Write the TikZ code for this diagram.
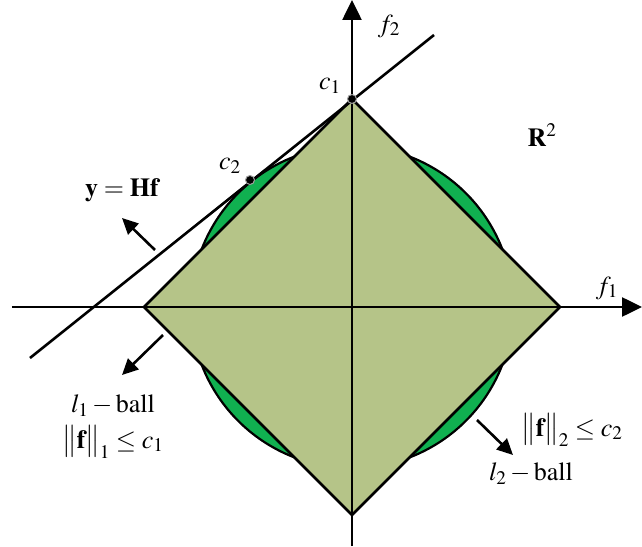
\documentclass[tikz,border=0pt]{standalone}
\usepackage{amsmath}
\usepackage{mathptmx}
\usepackage{fontspec}
\setmainfont{Liberation Serif}
\usetikzlibrary{
  arrows.meta,
  positioning
}
\definecolor{DiamondOlive}{RGB}{181,196,136}
\definecolor{BallGreen}{RGB}{16,176,80}
\definecolor{DotRim}{RGB}{160,160,160}
\tikzset{
  axisline/.style={line width=2.6pt,-{Triangle[length=20pt,width=19pt]}},
  pointer/.style={line width=2.6pt,-{Triangle[length=16pt,width=15pt]}},
  hfline/.style={line width=2.6pt},
  lonefill/.style={draw=black,line width=2.6pt,line join=miter,fill=DiamondOlive},
  ltwofill/.style={draw=black,line width=2.2pt,fill=BallGreen},
  touchdot/.style={circle,fill=black,draw=DotRim,line width=1pt,inner sep=0pt,minimum size=9pt},
  tag/.style={inner sep=0pt}
}
\begin{document}
\begin{tikzpicture}[x=1pt,y=1pt,font=\fontsize{26}{30}\selectfont]
  \useasboundingbox (-352,-239) rectangle (290,307);

  % l2 ball under the l1 ball
  \draw[ltwofill] (0,0) circle (161);
  \draw[lonefill] (208,0) -- (0,208) -- (-208,0) -- (0,-208) -- cycle;

  % axes
  \coordinate (west) at (-340,0);
  \coordinate (east) at (290,0);
  \coordinate (south) at (0,-239);
  \coordinate (north) at (0,307);
  \draw[axisline] (west) -- (east);
  \draw[axisline] (south) -- (north);

  % constraint line y = Hf
  \coordinate (hfstart) at (-322,-51);
  \coordinate (hfend) at (82,272);
  \draw[hfline] (hfstart) -- (hfend);
  \node[touchdot] (c1dot) at (0,208) {};
  \node[touchdot] (c2dot) at (-102,127) {};

  \node[tag] (f2lab) at (37,281) {$f_2$};
  \node[tag] (f1lab) at (255,19) {$f_1$};
  \node[tag] (c1lab) at (-22,221) {$c_1$};
  \node[tag] (c2lab) at (-122,141) {$c_2$};
  \node[tag] (rlab) at (190,172) {$\mathbf{R}^2$};
  \node[tag] (hflab) at (-230,117) {$\mathbf{y}=\mathbf{Hf}$};

  \node[tag] (l1lab) at (-239,-99) {$l_1-\mathrm{ball}$};
  \node[tag] (n1lab) at (-239,-135) {$\bigl\lVert\mathbf{f}\bigr\rVert_1\leq c_1$};
  \node[tag] (n2lab) at (220,-123) {$\bigl\lVert\mathbf{f}\bigr\rVert_2\leq c_2$};
  \node[tag] (l2lab) at (179,-167) {$l_2-\mathrm{ball}$};

  % direction pointers
  \coordinate (hftail) at (-197,57);
  \coordinate (hftip) at (-230,89);
  \coordinate (l1tail) at (-189,-28);
  \coordinate (l1tip) at (-230,-68);
  \coordinate (l2tail) at (125,-113);
  \coordinate (l2tip) at (161,-148);
  \draw[pointer] (hftail) -- (hftip);
  \draw[pointer] (l1tail) -- (l1tip);
  \draw[pointer] (l2tail) -- (l2tip);
\end{tikzpicture}
\end{document}
